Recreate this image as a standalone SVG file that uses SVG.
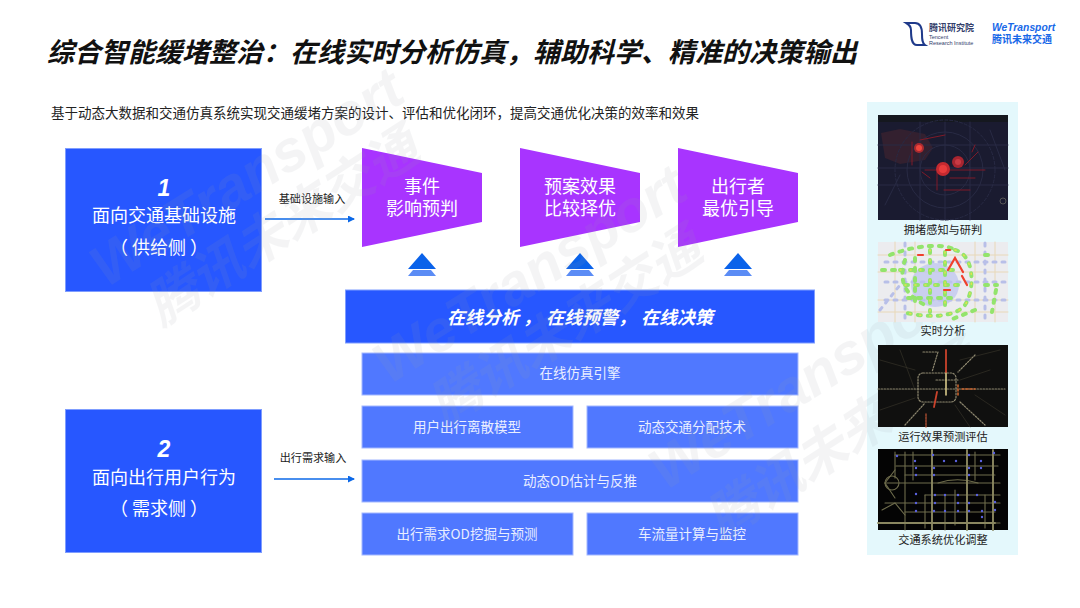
<svg xmlns="http://www.w3.org/2000/svg" width="1080" height="608" viewBox="0 0 1080 608">
<style>
text{font-family:"Noto Sans CJK SC","Liberation Sans",sans-serif}
.w{fill:#9aa0a8;opacity:.1;font-weight:700;font-style:italic;text-anchor:middle}
.we{font-size:58px;font-family:"Liberation Sans",sans-serif}
.cn{font-size:52px}
.big{fill:#2757ff;stroke:#7f9dff;stroke-width:1}
.sub{fill:#5078ff;stroke:#a3b8ff;stroke-width:1}
.pur{fill:#a834ff}
.wt{fill:#fff;text-anchor:middle}
.tr{fill:#fff;text-anchor:middle;font-size:18px;font-family:"Liberation Sans","Noto Sans CJK SC",sans-serif}
.lt{fill:#e9eeff;text-anchor:middle;font-size:13.5px}
.f18{font-size:18px}
.num{font-size:23px;font-weight:700;font-style:italic;font-family:"Liberation Sans",sans-serif}
.cap{font-size:11.2px;fill:#222;text-anchor:middle}
.lab{font-size:11.1px;fill:#222;text-anchor:middle}
.arr{stroke:#0b68e8;stroke-width:1.6;fill:none;marker-end:url(#ah)}
.road{fill:none;stroke-linecap:round}
</style>
<defs>
<marker id="ah" markerUnits="userSpaceOnUse" markerWidth="7" markerHeight="7" refX="6" refY="3.5" orient="auto"><path d="M0 0L7 3.5L0 7z" fill="#0b68e8"/></marker>
<g id="up"><path d="M-9 6H9L14 12H-14z" fill="#5b8cf5"/><path d="M0 -11L14 5H-14z" fill="#0a62ea"/></g>
</defs>
<rect width="1080" height="608" fill="#fff"/>
<g id="header">
<text x="47" y="62" font-size="27" font-weight="700" fill="#111" font-style="italic">综合智能缓堵整治：在线实时分析仿真，辅助科学、精准的决策输出</text>
<text x="51" y="118" font-size="13.5" fill="#222">基于动态大数据和交通仿真系统实现交通缓堵方案的设计、评估和优化闭环，提高交通优化决策的效率和效果</text>
</g>
<g id="logos">
<path d="M906 23H915C921 23 922 28 922 34C922 39 922 43 925 45H917C911 45 911 36 911 30C911 26 909 25 906 23z" fill="none" stroke="#1f3a8a" stroke-width="2"/>
<text x="929" y="31" font-size="9" font-weight="700" fill="#34406b">腾讯研究院</text>
<text x="929" y="39" font-size="5.5" fill="#34406b" style="font-family:'Liberation Sans'">Tencent</text>
<text x="929" y="45" font-size="5.5" fill="#34406b" style="font-family:'Liberation Sans'">Research Institute</text>
<text x="992" y="31" font-size="10.3" font-weight="700" font-style="italic" fill="#1768e8" style="font-family:'Liberation Sans'">WeTransport</text>
<text x="992" y="43" font-size="10" font-weight="700" fill="#1768e8">腾讯未来交通</text>
</g>
<g id="node-1">
<rect class="big" x="65.500" y="148.500" width="196" height="143"/>
<text class="wt num" x="164" y="196">1</text>
<text class="wt f18" x="164" y="222">面向交通基础设施</text>
<text class="wt f18" x="159" y="254">（ 供给侧 ）</text>
</g>
<g id="node-2">
<rect class="big" x="65.500" y="409.500" width="196" height="143"/>
<text class="wt num" x="164" y="457">2</text>
<text class="wt f18" x="164" y="484">面向出行用户行为</text>
<text class="wt f18" x="159" y="515">（ 需求侧 ）</text>
</g>
<g id="connectors">
<line class="arr" x1="265" y1="219" x2="354" y2="219"/>
<line class="arr" x1="274" y1="479" x2="354" y2="479"/>
<use href="#up" x="422" y="264"/>
<use href="#up" x="580" y="264"/>
<use href="#up" x="738" y="264"/>
</g>
<g id="connector-labels">
<text class="lab" x="312" y="203">基础设施输入</text>
<text class="lab" x="313" y="462">出行需求输入</text>
</g>
<g id="trap-1">
<path class="pur" d="M362 148L482 173V222L362 247z"/>
<text class="tr"><tspan x="422" y="193">事件</tspan><tspan x="422" y="215">影响预判</tspan></text>
</g>
<g id="trap-2">
<path class="pur" d="M520 148L640 173V222L520 247z"/>
<text class="tr"><tspan x="580" y="193">预案效果</tspan><tspan x="580" y="215">比较择优</tspan></text>
</g>
<g id="trap-3">
<path class="pur" d="M678 148L798 173V222L678 247z"/>
<text class="tr"><tspan x="738" y="193">出行者</tspan><tspan x="738" y="215">最优引导</tspan></text>
</g>
<g id="online-bar">
<rect class="big" x="345.500" y="290" width="469" height="53"/>
<text fill="#fff" font-size="18" font-weight="700" font-style="italic" y="324"><tspan x="447" y="324">在线分析 ，</tspan><tspan x="546" y="324">在线预警，</tspan><tspan x="641" y="324">在线决策</tspan></text>
</g>
<g id="engine"><rect class="sub" x="362" y="353" width="436" height="42"/><text class="lt" x="580" y="378">在线仿真引擎</text></g>
<g id="user-model"><rect class="sub" x="362" y="406" width="211" height="42"/><text class="lt" x="467" y="432">用户出行离散模型</text></g>
<g id="assign"><rect class="sub" x="587" y="406" width="211" height="42"/><text class="lt" x="692" y="432">动态交通分配技术</text></g>
<g id="od-est"><rect class="sub" x="362" y="460" width="436" height="42"/><text class="lt" x="580" y="486">动态OD估计与反推</text></g>
<g id="od-mining"><rect class="sub" x="362" y="513" width="211" height="42"/><text class="lt" x="467" y="539">出行需求OD挖掘与预测</text></g>
<g id="flow"><rect class="sub" x="587" y="513" width="211" height="42"/><text class="lt" x="692" y="539">车流量计算与监控</text></g>
<g id="side-panel">
<rect x="867" y="102" width="151" height="453" fill="#e4f8fc"/>
</g>
<g id="watermark">
<text class="w we" transform="translate(257,194) rotate(-32)">WeTransport</text>
<text class="w cn" transform="translate(292,242) rotate(-33)">腾讯未来交通</text>
<text class="w we" transform="translate(540,291) rotate(-32)">WeTransport</text>
<text class="w cn" transform="translate(575,342) rotate(-33)">腾讯未来交通</text>
<text class="w we" transform="translate(816,397) rotate(-32)">WeTransport</text>
<text class="w cn" transform="translate(852,455) rotate(-33)">腾讯未来交通</text>
</g>
<g id="maps">
<g id="map-1">
<rect x="878" y="115" width="130" height="105" fill="#1a1b30"/>
<rect x="878" y="115" width="130" height="7" fill="#15181f"/>
<path d="M881 133L900 129L925 134L933 148L925 160L900 164L885 158z" fill="#33202f"/>
<g class="road" stroke="#282a44" stroke-width="1">
<circle cx="945" cy="170" r="38"/><circle cx="945" cy="170" r="25"/><circle cx="945" cy="170" r="50" stroke-dasharray="3 2"/>
<path d="M878 168H1008M878 185H1008M878 145H1008M945 122V220M920 122V220M970 122V220M990 130L1005 170M900 175L885 205"/>
</g>
<g class="road" stroke="#7f1a28" stroke-width="1">
<path d="M912 142V165M920 140L945 135M925 170H985M937 172V190M972 152L975 145M950 178H975M978 152L965 165M922 172L930 178M944 190H970"/>
</g>
<circle cx="919" cy="148" r="5" fill="#a82a30"/><circle cx="919" cy="148" r="3" fill="#f0453c"/>
<circle cx="958" cy="162" r="6" fill="#a82530"/><circle cx="958" cy="162" r="3" fill="#c93a44"/>
<circle cx="943" cy="169" r="7" fill="#c42a30"/><circle cx="943" cy="169" r="4" fill="#e83c3c"/>
<circle cx="1003" cy="201" r="3" fill="none" stroke="#555"/>
</g>
<text class="cap" x="943" y="234">拥堵感知与研判</text>
<g id="map-2">
<rect x="878" y="242" width="130" height="80" fill="#ececef"/>
<g class="road" stroke="#e8d8b8" stroke-width="1">
<path d="M878 255H1008M878 272H1008M878 300H1008M878 312H1008M895 242V322M915 242V322M975 242V322M995 242V322"/>
</g>
<g class="road" stroke="#b8bfe8" stroke-width="3" stroke-dasharray="3 6">
<path d="M885 262H1005M885 282H1005M885 300H1005M905 243V322M985 243V322M880 310L900 285"/>
</g>
<ellipse cx="935" cy="285" rx="24" ry="22" fill="#bcc3f0" opacity=".7"/>
<g class="road" stroke="#93e46c" stroke-width="4" stroke-dasharray="3 7">
<path d="M955 250C975 255 975 290 965 305C955 318 925 318 903 312"/>
<path d="M890 255C915 245 945 243 955 250"/>
<path d="M905 260C898 280 905 295 925 305"/>
<path d="M930 250V312M915 258V305M945 252V312"/>
<path d="M905 285H965M900 270H960M908 298H955"/>
<path d="M985 285H997M996 290L992 312M975 310L950 320M882 270H895M985 255H990"/>
</g>
<g class="road" stroke="#e7e24a" stroke-width="1.500" stroke-dasharray="1 9">
<path d="M955 250C975 255 975 290 965 305C955 318 925 318 903 312"/>
<path d="M930 250V312M945 252V312M905 285H965M900 270H960"/>
</g>
<path class="road" d="M948 270L955 258L963 272M962 276L967 285M918 255H923M944 290H950M946 250H950" stroke="#f0402c" stroke-width="2.200"/>
</g>
<text class="cap" x="943" y="335">实时分析</text>
<g id="map-3">
<rect x="878" y="345" width="130" height="82" fill="#10100f"/>
<g class="road" stroke="#3a382c" stroke-width=".6">
<path d="M880 360L915 370M900 350L915 390M960 360L1000 350M975 395L1005 415M880 410L915 398M955 405L970 427M990 370L960 380"/>
</g>
<g class="road" stroke="#8e8870" stroke-width="1.200" stroke-dasharray="1.500 1.500">
<rect x="918" y="373" width="38" height="29" rx="5"/>
<path d="M878 389H1005M923 352L938 352L932 372M960 402L985 425M975 355L958 372M905 425L925 403M936 380H958"/>
</g>
<path class="road" d="M946 372V395" stroke="#d8c98a" stroke-width="1.600"/>
<path class="road" d="M946 350V372M937 392L934 407" stroke="#c9432c" stroke-width="1.800"/>
<path class="road" d="M958 385V395M962 389H975" stroke="#c9622c" stroke-width="1.600" stroke-dasharray="2 2"/>
<path class="road" d="M926 414V427" stroke="#a94c30" stroke-width="1.400" stroke-dasharray="2 1"/>
</g>
<text class="cap" x="943" y="441">运行效果预测评估</text>
<g id="map-4">
<rect x="878" y="449" width="130" height="81" fill="#040404"/>
<g class="road" stroke="#6e6c4c" stroke-width="1.100">
<path d="M895 455H1000M896 466H998M905 475H995M885 483H1000M925 495H1000M885 503H1000M905 512H995M880 523H1000"/>
<path d="M895 452V478M905 452V530M913 452V480M925 495V528M945 495V530M955 490V525M975 452V480M985 495V528"/>
<circle cx="892" cy="483" r="7"/>
<path d="M895 470L885 483L895 498M882 510L895 503L905 515"/>
<path d="M938 483C950 479 965 479 978 483"/>
</g>
<g class="road" stroke="#8a8760" stroke-width="1.900">
<path d="M932 450V530M967 450V530M993 450V530M878 523H995"/>
</g>
<g fill="#5b63e0"><circle cx="897" cy="456" r="1.200"/><circle cx="915" cy="461" r="1.200"/><circle cx="933" cy="455" r="1.200"/><circle cx="944" cy="461" r="1.200"/><circle cx="956" cy="461" r="1.200"/><circle cx="969" cy="455" r="1.200"/><circle cx="981" cy="461" r="1.200"/><circle cx="994" cy="453" r="1.200"/><circle cx="916" cy="468" r="1.200"/><circle cx="934" cy="468" r="1.200"/><circle cx="969" cy="468" r="1.200"/><circle cx="981" cy="468" r="1.200"/><circle cx="916" cy="475" r="1.200"/><circle cx="934" cy="475" r="1.200"/><circle cx="969" cy="475" r="1.200"/><circle cx="916" cy="494" r="1.200"/><circle cx="935" cy="495" r="1.200"/><circle cx="945" cy="495" r="1.200"/><circle cx="958" cy="495" r="1.200"/><circle cx="977" cy="495" r="1.200"/><circle cx="916" cy="503" r="1.200"/><circle cx="935" cy="503" r="1.200"/><circle cx="958" cy="503" r="1.200"/><circle cx="969" cy="503" r="1.200"/><circle cx="995" cy="502" r="1.200"/><circle cx="916" cy="511" r="1.200"/><circle cx="934" cy="511" r="1.200"/><circle cx="945" cy="511" r="1.200"/><circle cx="958" cy="511" r="1.200"/><circle cx="969" cy="511" r="1.200"/><circle cx="982" cy="511" r="1.200"/><circle cx="995" cy="510" r="1.200"/><circle cx="982" cy="517" r="1.200"/></g>
</g>
<text class="cap" x="943" y="544">交通系统优化调整</text>
</g>
</svg>
